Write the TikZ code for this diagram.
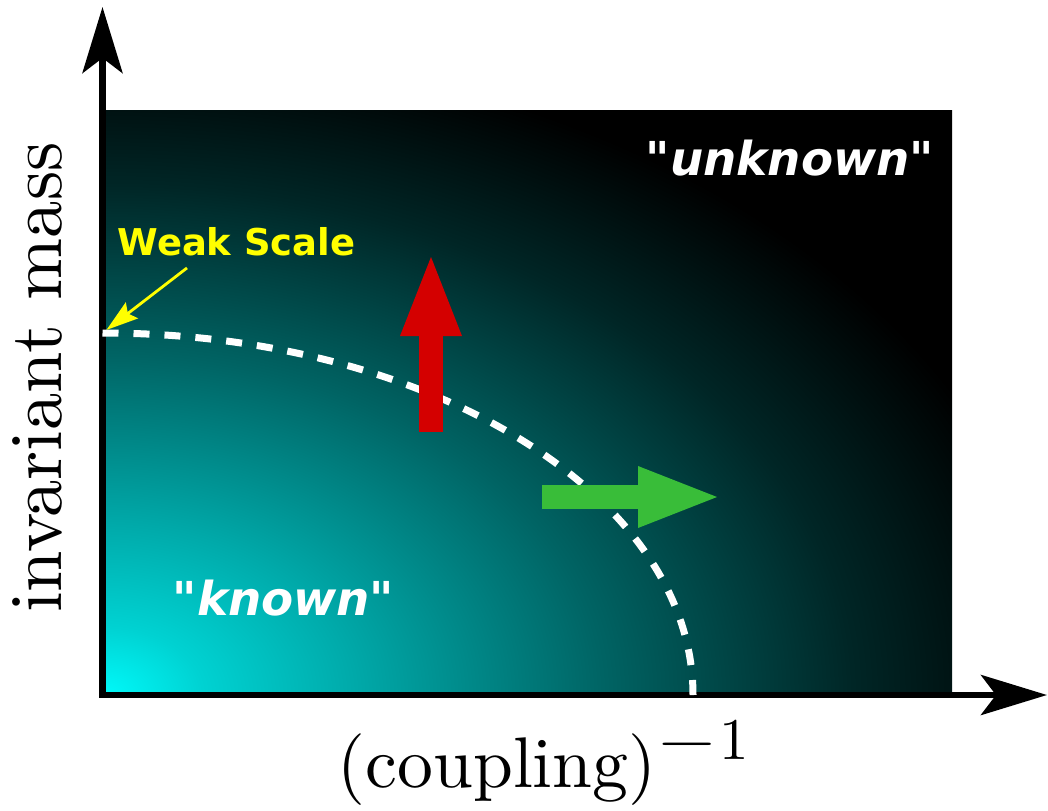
\documentclass[tikz,border=0pt]{standalone}
\usepackage{fontspec}
\newfontfamily\tagfont{DejaVu Sans}
\newfontfamily\axisfont{lmroman10-regular}[Extension=.otf]
\usetikzlibrary{arrows.meta,calc}
\definecolor{CRed}{RGB}{212,0,0}
\definecolor{CGreen}{RGB}{57,189,57}
\definecolor{CYellow}{RGB}{255,255,0}
\definecolor{GlowA}{RGB}{0,250,250}
\definecolor{GlowB}{RGB}{0,210,210}
\definecolor{GlowC}{RGB}{0,170,170}
\definecolor{GlowD}{RGB}{0,100,100}
\definecolor{GlowE}{RGB}{0,38,38}
% the 25bp circle is stretched onto the shaded path
\pgfdeclareradialshading{knownglow}{\pgfpoint{0bp}{0bp}}{%
  color(0bp)=(GlowA); color(2.5bp)=(GlowB); color(6.25bp)=(GlowC);
  color(12.5bp)=(GlowD); color(18.75bp)=(GlowE); color(24bp)=(black);
  color(50bp)=(black)}
\tikzset{
  axis/.style={
    line width=0.065cm,
    line cap=rect,
    -{Stealth[length=0.66cm,width=0.40cm,inset=0.15cm]}
  },
  boundary/.style={white,line width=0.07cm,dash pattern=on 0.16cm off 0.15cm},
  fat arrow/.style={line width=0.235cm,-{Triangle[length=0.79cm,width=0.62cm,line width=0pt]}},
  region/.style={font=\tagfont\bfseries\fontsize{13.3}{16}\selectfont,text=white},
  tag/.style={font=\tagfont\bfseries\fontsize{10.5}{13}\selectfont,text=CYellow},
  pointer/.style={CYellow,line width=0.8pt,-{Stealth[length=0.32cm,width=0.2cm,inset=0.05cm]}},
  axis label/.style={font=\axisfont,inner sep=0pt}
}

\begin{document}
\begin{tikzpicture}[x=1cm,y=1cm]
\useasboundingbox (0,0) rectangle (10.48,8.10);

\coordinate (O) at (1.025,1.15);
\coordinate (NE) at (9.52,7.00);
\coordinate (ytip) at (1.025,8.03);
\coordinate (xtip) at (10.47,1.15);

% glowing plane: bright where things are known
\begin{scope}
  \clip (O) rectangle (NE);
  \fill[black] (O) rectangle (NE);
  \shade[shading=knownglow] ($(O)+(-10,-6.8)$) rectangle ($(O)+(10,6.8)$);
\end{scope}

% axes
\draw[axis] (O) -- (ytip);
\draw[axis] (O) -- (xtip);

% weak scale boundary
\coordinate (wsc) at (1.025,4.77);
\draw[boundary] (wsc) arc[start angle=90,end angle=0,x radius=5.905,y radius=3.62];

% directions of exploration
\coordinate (rtail) at (4.31,3.78);
\coordinate (rtip) at (4.31,5.53);
\coordinate (gtail) at (5.42,3.13);
\coordinate (gtip) at (7.17,3.13);
\draw[fat arrow,CRed] (rtail) -- (rtip);
\draw[fat arrow,CGreen] (gtail) -- (gtip);

% labels
\node[region,anchor=base] (unknown) at (7.90,6.35) {"\textit{unknown}"};
\node[region,anchor=base] (known) at (2.835,1.95) {"\textit{known}"};
\node[tag,anchor=base] (weak) at (2.365,5.55) {Weak Scale};
\draw[pointer,shorten >=0.5mm] ([xshift=-4.95mm]weak.south) -- (wsc);

\node[axis label,rotate=90,anchor=base] (ylabel) at (0.62,4.325)
  {\fontsize{21.2}{25}\selectfont invariant mass};
\node[axis label,anchor=base west] (xlabel) at (3.37,0.23)
  {\fontsize{20.4}{24}\selectfont (coupling)\raisebox{7.7pt}{\fontsize{16.8}{20}\selectfont
   \scalebox{1.3}[1]{$-$}\hspace{0.5pt}1}};

\end{tikzpicture}
\end{document}
